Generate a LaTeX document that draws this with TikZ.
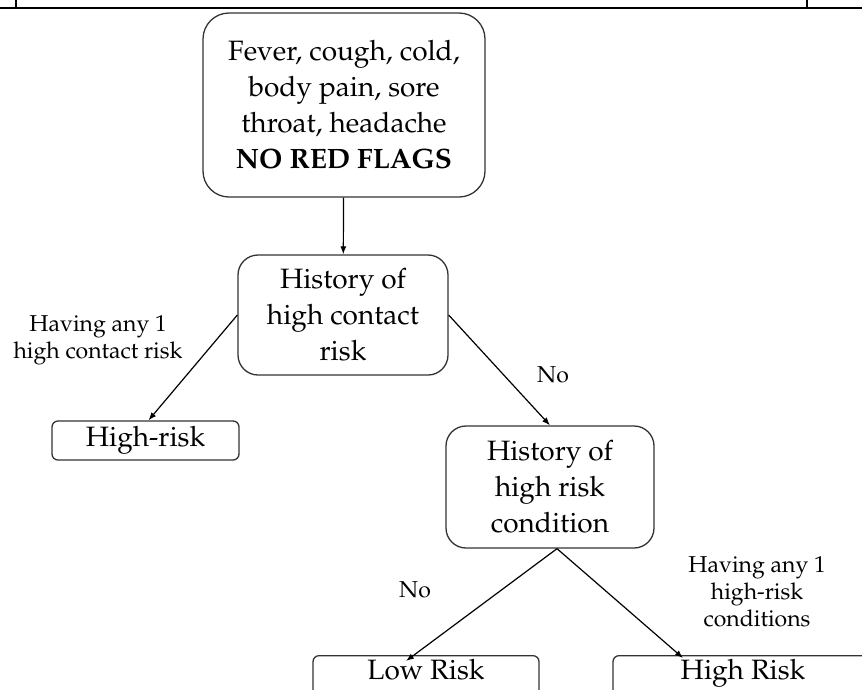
\documentclass[tikz,border=0pt]{standalone}
\usepackage[T1]{fontenc}
\usepackage{mathpazo}
\usetikzlibrary{arrows.meta}
\begin{document}
\begin{tikzpicture}[x=1pt, y=-1pt, >={Latex[length=8pt,width=6pt]}, line width=1.2pt,
  main node/.style={draw=black!80, line width=1.3pt, rounded corners=20pt, align=center, inner sep=0pt, font=\fontsize{28}{36}\selectfont},
  end node/.style={main node, rounded corners=6pt},
  edge label/.style={align=center, inner sep=0pt, font=\fontsize{23}{27}\selectfont}]
\useasboundingbox (0,0) rectangle (862,689);
% table rule on top
\draw[line width=2.6pt] (0,8) -- (862,8);
\draw[line width=2.4pt] (16,0) -- (16,8);
\draw[line width=2.4pt] (807,0) -- (807,8);
\begin{scope}
\node[main node, rounded corners=26pt, minimum width=282pt, minimum height=184pt] (symptoms) at (344,105) {Fever, cough, cold,\\ body pain, sore\\ throat, headache\\ \textbf{NO RED FLAGS}};%1
\node[main node, minimum width=210pt, minimum height=120pt] (contact) at (343,315) {History of\\ high contact\\ risk};%2
\node[end node, minimum width=187pt, minimum height=39pt] (highrisk) at (145.5,440.5) {High-risk};%3
\node[main node, minimum width=208pt, minimum height=122pt] (condition) at (550,487) {History of\\ high risk\\ condition};%4
\node[end node, minimum width=226pt, text height=24pt, text depth=28pt, anchor=north] (low) at (426,655) {Low Risk};%5
\node[end node, minimum width=260pt, text height=24pt, text depth=28pt, anchor=north] (high) at (743,655) {High Risk};%6
\end{scope}
\begin{scope}[every node/.style={edge label}]
\node (l1) at (98,340) {Having any 1\\ high contact risk};
\node (l2) at (553,375) {No};
\node (l3) at (415,590) {No};
\node (l4) at (757,592) {Having any 1\\ high-risk\\ conditions};
\end{scope}
\begin{scope}
\draw[->] (symptoms) -- (contact);
\draw[->] (contact.west) -- ([xshift=3pt]highrisk.north);
\draw[->] (contact.east) -- (condition.north);
\draw[->] ([xshift=7pt]condition.south) -- ([xshift=-20pt,yshift=-6pt]low.north);
\draw[->] ([xshift=7pt]condition.south) -- ([xshift=-60pt,yshift=-3pt]high.north);
%\draw (contact) -- (condition);
\end{scope}
\end{tikzpicture}
\end{document}
